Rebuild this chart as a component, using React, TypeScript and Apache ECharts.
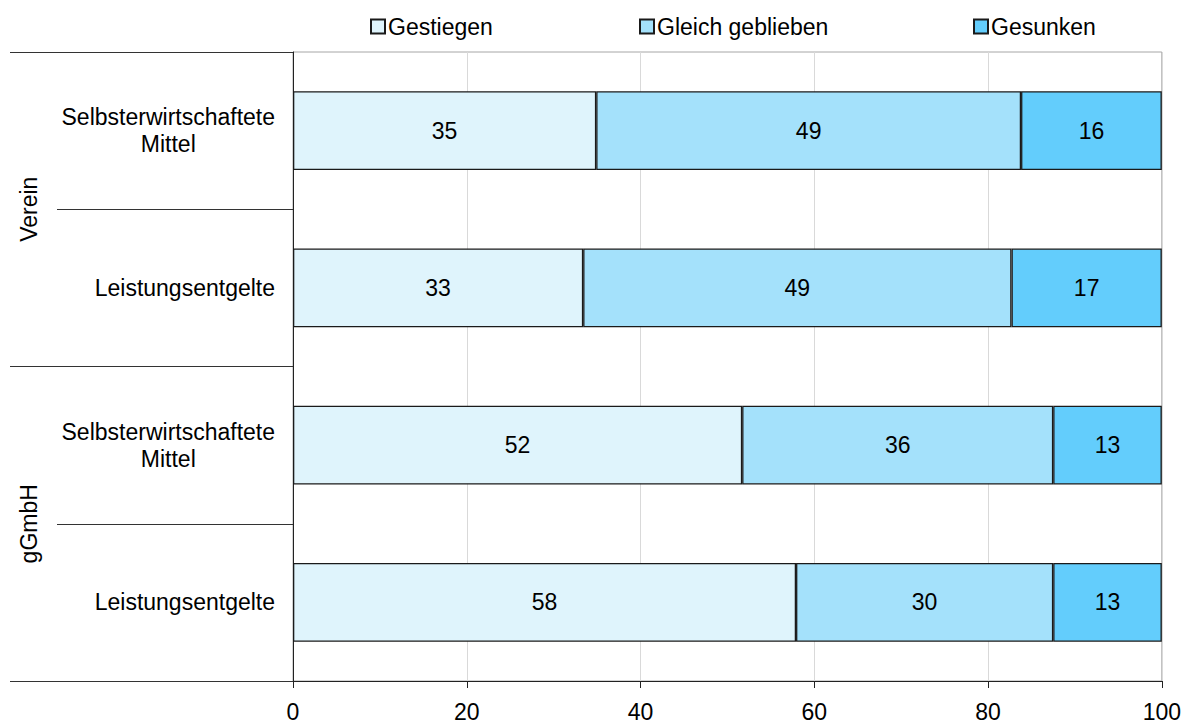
import React, { useEffect, useRef } from "react";
import * as echarts from "echarts";

const categories = [
  "Selbsterwirtschaftete\nMittel",
  "Leistungsentgelte",
  "Selbsterwirtschaftete\nMittel",
  "Leistungsentgelte",
];
const groups = ["Verein", "gGmbH"];
const gestiegen = [34.9, 33.4, 51.7, 57.9];
const gleich = [48.9, 49.3, 35.8, 29.6];
const gesunken = [16.2, 17.3, 12.5, 12.5];
const xTicks = [0, 20, 40, 60, 80, 100];

const FONT = "'Liberation Sans', Arial, sans-serif";
const FS = 23;
const colors = ["#DFF4FC", "#A4E1FB", "#63CDFC"];
const names = ["Gestiegen", "Gleich geblieben", "Gesunken"];
const legendLefts = [370, 639, 973];

export default function App() {
  const ref = useRef<HTMLDivElement>(null);
  useEffect(() => {
    if (!ref.current) return;
    const chart = echarts.init(ref.current, undefined, { renderer: "svg" });
    const datas = [gestiegen, gleich, gesunken];
    const option: any = {
      animation: false,
      textStyle: { fontFamily: FONT },
      legend: names.map((n, i) => ({
        data: [n],
        left: legendLefts[i],
        top: 15,
        padding: 0,
        icon: "rect",
        itemWidth: 14,
        itemHeight: 14,
        itemGap: 0,
        textStyle: { fontSize: FS, color: "#000", fontFamily: FONT, padding: [0, 0, 0, -2] },
      })),
      grid: {
        left: 293,
        right: 22,
        top: 52,
        bottom: 44,
        show: true,
        borderColor: "#a6a6a6",
        borderWidth: 1,
        containLabel: false,
      },
      xAxis: {
        type: "value",
        min: xTicks[0],
        max: xTicks[xTicks.length - 1],
        interval: 20,
        axisLine: { show: true, lineStyle: { color: "#222", width: 1 } },
        axisTick: { show: true, length: 7, lineStyle: { color: "#222" } },
        axisLabel: { fontSize: FS, color: "#000", margin: 19, fontFamily: FONT },
        splitLine: { show: true, lineStyle: { color: "#d9d9d9", width: 1 } },
      },
      yAxis: [
        {
          type: "category",
          data: categories,
          inverse: true,
          position: "left",
          axisLine: { show: true, lineStyle: { color: "#222", width: 1 } },
          axisTick: { show: true, length: 236, lineStyle: { color: "#333" } },
          axisLabel: {
            margin: 18,
            align: "right",
            formatter: (v: string) =>
              v
                .split("\n")
                .map((l) => `{c|${l}}`)
                .join("\n"),
            rich: {
              c: {
                align: "center",
                fontSize: FS,
                lineHeight: 27,
                color: "#000",
                fontFamily: FONT,
              },
            },
          },
          splitLine: { show: false },
        },
        {
          type: "category",
          data: groups,
          inverse: true,
          position: "left",
          axisLine: { show: false },
          axisTick: { show: true, length: 283, lineStyle: { color: "#333" } },
          axisLabel: {
            rotate: 90,
            margin: 253,
            fontSize: FS,
            color: "#000",
            fontFamily: FONT,
          },
          splitLine: { show: false },
        },
      ],
      series: names.map((n, i) => ({
        name: n,
        type: "bar",
        stack: "total",
        yAxisIndex: 0,
        barWidth: "50%",
        data: datas[i],
        itemStyle: { color: colors[i], borderColor: "#1a1a1a", borderWidth: 1.3 },
        label: {
          show: true,
          position: "inside",
          fontSize: FS,
          color: "#000",
          fontFamily: FONT,
          formatter: (p: any) => String(Math.round(p.value)),
        },
      })),
    };
    chart.setOption(option);
    return () => chart.dispose();
  }, []);
  return <div ref={ref} style={{ width: 1184, height: 725, position: "absolute", left: 0, top: 0 }} />;
}
